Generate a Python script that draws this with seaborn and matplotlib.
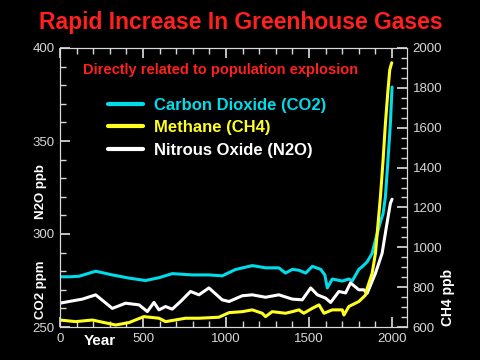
import numpy as np
import pandas as pd
import seaborn as sns
import matplotlib
matplotlib.use("Agg")
import matplotlib.pyplot as plt
from matplotlib.ticker import MultipleLocator

# Values
co2_years = [0, 60, 115, 215, 315, 415, 515, 596, 676, 796, 897, 977, 1057, 1158,
             1240, 1318, 1358, 1400, 1439, 1480, 1520, 1570, 1595, 1610, 1640, 1700,
             1740, 1760, 1800, 1820, 1850, 1880, 1900, 1930, 1946, 1960, 1974, 1990, 2000]
co2_ppm = [277, 277, 277.3, 280, 278, 276.3, 275, 276.5, 278.7, 278, 278, 277.5, 280.9, 283,
           281.8, 281.8, 279, 281, 280.5, 279, 282.6, 281, 278, 271, 275.8, 274.7,
           275.8, 274.7, 281, 282.4, 285, 289.6, 296.8, 306.6, 311, 320, 338, 359.5, 379]

ch4_years = [0, 94, 195, 335, 415, 505, 596, 636, 756, 837, 957, 1018, 1098, 1158, 1218,
             1238, 1278, 1358, 1399, 1439, 1468, 1520, 1560, 1590, 1640, 1700, 1710, 1740,
             1800, 1840, 1850, 1880, 1900, 1914, 1930, 1946, 1960, 1974, 1986, 1998]
ch4_ppb = [635, 627, 635, 610, 622, 652, 644, 627, 644, 644, 649, 672, 677, 686, 669,
           652, 677, 669, 677, 686, 669, 694, 711, 669, 686, 686, 660, 703,
           728, 760, 794, 869, 970, 1103, 1254, 1438, 1622, 1773, 1890, 1926]

n2o_years = [0, 54, 135, 215, 315, 395, 476, 526, 566, 596, 636, 676, 726, 786, 837, 897,
             977, 1018, 1098, 1158, 1238, 1318, 1399, 1459, 1510, 1550, 1600, 1630, 1680,
             1720, 1750, 1800, 1830, 1850, 1900, 1940, 1966, 1990, 2000]
n2o_ppb = [262.8, 263.7, 265, 267.3, 260, 262.8, 261.9, 258.3, 263.2, 259.2, 261, 259.6,
           263.7, 269.1, 267.3, 271, 264.6, 263.7, 266.8, 267.3, 266, 267.3, 265, 264.6,
           271, 267.3, 265.5, 263.2, 269.1, 268.3, 273.7, 270, 270, 268.1, 278.9, 289.6,
           303.9, 316.5, 318.7]

cyan = "#00dcea"
yellow = "#ffff20"
red = "#ff2020"
grey = "#d8d8d8"

sns.set_theme(style="ticks", rc={
    "figure.facecolor": "black", "axes.facecolor": "black",
    "axes.edgecolor": grey, "xtick.color": grey, "ytick.color": grey,
    "axes.linewidth": 0.8,
})
plt.rcParams["font.family"] = ["Liberation Sans", "DejaVu Sans"]

fig = plt.figure(figsize=(4.8, 3.6), dpi=100)
ax = fig.add_axes([60 / 480, 1 - 327 / 360, 347 / 480, 279 / 360])
ax2 = ax.twinx()

sns.lineplot(x=co2_years, y=co2_ppm, ax=ax, color=cyan, lw=2.2, label="Carbon Dioxide (CO2)")
sns.lineplot(x=n2o_years, y=n2o_ppb, ax=ax, color="white", lw=2.2, label="Nitrous Oxide (N2O)")
sns.lineplot(x=ch4_years, y=ch4_ppb, ax=ax2, color=yellow, lw=2.2, label="Methane (CH4)")

ax.set_xlim(0, 2090)
ax.set_ylim(250, 400)
ax2.set_ylim(600, 2000)
ax.set_xticks([0, 500, 1000, 1500, 2000])
ax.set_yticks([250, 300, 350, 400])
ax2.set_yticks(range(600, 2001, 200))
ax.xaxis.set_minor_locator(MultipleLocator(100))
ax.yaxis.set_minor_locator(MultipleLocator(10))
ax2.yaxis.set_minor_locator(MultipleLocator(50))
ax.tick_params(which="both", direction="in", top=True, labelsize=9.5, labelcolor=grey, pad=4)
ax.tick_params(which="major", length=7)
ax.tick_params(which="minor", length=4)
ax2.tick_params(which="both", direction="in", labelsize=9.5, labelcolor=grey, pad=4)
ax2.tick_params(which="major", length=7)
ax2.tick_params(which="minor", length=4)
ax.set_xlabel("")
ax.set_ylabel("")
ax2.set_ylabel("")
for sp in ax2.spines.values():
    sp.set_color(grey)

# combined legend
h1, l1 = ax.get_legend_handles_labels()
h2, l2 = ax2.get_legend_handles_labels()
ax.get_legend().remove()
ax2.get_legend().remove()
leg = ax2.legend([h1[0], h2[0], h1[1]], [l1[0], l2[0], l1[1]],
                 loc="upper left", bbox_to_anchor=(0.138, 0.822), frameon=False,
                 borderpad=0, borderaxespad=0, handlelength=2.1, handletextpad=0.65,
                 labelspacing=0.45, labelcolor="linecolor",
                 prop={"weight": "bold", "size": 12})
for line in leg.get_lines():
    line.set_linewidth(3)

fig.text(241 / 480, 1 - 22 / 360, "Rapid Increase In Greenhouse Gases",
         color=red, fontsize=16.5, fontweight="bold", ha="center", va="center")
fig.text(221 / 480, 1 - 70 / 360, "Directly related to population explosion",
         color=red, fontsize=10.5, fontweight="bold", ha="center", va="center")
fig.text(41 / 480, 1 - 290 / 360, "CO2 ppm", color="white", fontsize=9.5,
         fontweight="bold", rotation=90, ha="center", va="center")
fig.text(41 / 480, 1 - 192 / 360, "N2O ppb", color="white", fontsize=9.5,
         fontweight="bold", rotation=90, ha="center", va="center")
fig.text(448 / 480, 1 - 298 / 360, "CH4 ppb", color="white", fontsize=10,
         fontweight="bold", rotation=90, ha="center", va="center")
fig.text(100 / 480, 1 - 341 / 360, "Year", color="white", fontsize=11,
         fontweight="bold", ha="center", va="center")

fig.savefig("out.png", dpi=100, facecolor="black")
